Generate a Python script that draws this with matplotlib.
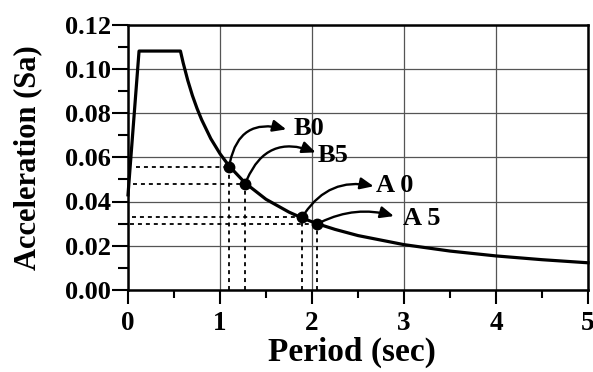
import matplotlib
matplotlib.use("Agg")
import matplotlib.pyplot as plt
from matplotlib.patches import FancyArrowPatch
from matplotlib.ticker import MultipleLocator, FormatStrFormatter

# Spectrum curve
period = [0.0, 0.12, 0.57, 0.60, 0.65, 0.70, 0.75, 0.80, 0.90, 1.00, 1.10,
          1.275, 1.50, 1.75, 1.895, 2.054, 2.25, 2.50, 3.00, 3.50, 4.00, 4.50, 5.00]
sa = [0.043, 0.108, 0.108, 0.1026, 0.0947, 0.0879, 0.0821, 0.0770, 0.0684,
      0.0616, 0.0560, 0.0483, 0.0410, 0.0352, 0.0325, 0.0300, 0.0274, 0.0246,
      0.0205, 0.0176, 0.0154, 0.0137, 0.0123]

# Marked points
pt_names = ["B0", "B5", "A0", "A5"]
pt_T = [1.10, 1.275, 1.895, 2.054]
pt_Sa = [0.0558, 0.0481, 0.0330, 0.0298]
dot_start = [0.09, 0.055, 0.045, 0.025]
arrow_tip = [(1.72, 0.0726), (2.04, 0.0622), (2.67, 0.0469), (2.89, 0.0334)]
arrow_rad = [-0.55, -0.5, -0.35, -0.2]
label_pos = [(1.80, 0.0728), (2.06, 0.0606), (2.70, 0.0472), (2.99, 0.0325)]
label_txt = ["B0", "B5", "A 0", "A 5"]

xticks = [0, 1, 2, 3, 4, 5]
yticks = [0.00, 0.02, 0.04, 0.06, 0.08, 0.10, 0.12]

plt.rcParams['font.family'] = ['Liberation Serif', 'DejaVu Serif']
plt.rcParams['font.weight'] = 'bold'

fig = plt.figure(figsize=(5.93, 3.72), dpi=100)
ax = fig.add_axes([128/593, 82/372, 460/593, 265.5/372])

ax.set_xlim(0, 5)
ax.set_ylim(0, 0.12)
ax.set_xticks(xticks)
ax.set_yticks(yticks)
ax.xaxis.set_minor_locator(MultipleLocator(0.5))
ax.yaxis.set_minor_locator(MultipleLocator(0.01))
ax.yaxis.set_major_formatter(FormatStrFormatter('%.2f'))
ax.grid(True, which='major', color='#555555', linewidth=0.9)
ax.set_axisbelow(True)

for s in ax.spines.values():
    s.set_linewidth(1.8)
    s.set_color('black')

ax.tick_params(axis='y', which='major', direction='out', length=11.5, width=1.5,
               labelsize=19, pad=1)
ax.tick_params(axis='y', which='minor', direction='out', length=7, width=1.5)
ax.tick_params(axis='x', which='major', direction='out', length=10, width=1.5,
               labelsize=19.5, pad=5)
ax.tick_params(axis='x', which='minor', direction='out', length=6, width=1.5)
for lab in ax.get_xticklabels() + ax.get_yticklabels():
    lab.set_fontweight('bold')

ax.plot(period, sa, color='black', linewidth=2.3, zorder=3, clip_on=False)

for i in range(len(pt_names)):
    ax.plot([dot_start[i], pt_T[i]], [pt_Sa[i], pt_Sa[i]], color='black',
            linewidth=1.3, linestyle=(0, (2.2, 2.2)), zorder=2)
    ax.plot([pt_T[i], pt_T[i]], [0, pt_Sa[i]], color='black',
            linewidth=1.3, linestyle=(0, (2.2, 2.2)), zorder=2)
    ax.plot(pt_T[i], pt_Sa[i], 'o', color='black', markersize=7.5, zorder=4)
    arr = FancyArrowPatch((pt_T[i], pt_Sa[i]), arrow_tip[i],
                          connectionstyle="arc3,rad=%.2f" % arrow_rad[i],
                          arrowstyle='-|>,head_length=8,head_width=3.5',
                          color='black', linewidth=1.7, shrinkA=3, shrinkB=0,
                          zorder=4)
    ax.add_patch(arr)
    ax.text(label_pos[i][0], label_pos[i][1], label_txt[i], fontsize=19,
            fontweight='bold', ha='left', va='center', zorder=5)

ax.set_xlabel('Period (sec)', fontsize=24, fontweight='bold')
ax.xaxis.set_label_coords(0.486, -0.175)
ax.set_ylabel('Acceleration (Sa)', fontsize=22, fontweight='bold')
ax.yaxis.set_label_coords(-0.187, 0.5)

fig.savefig('out.png', dpi=100)
